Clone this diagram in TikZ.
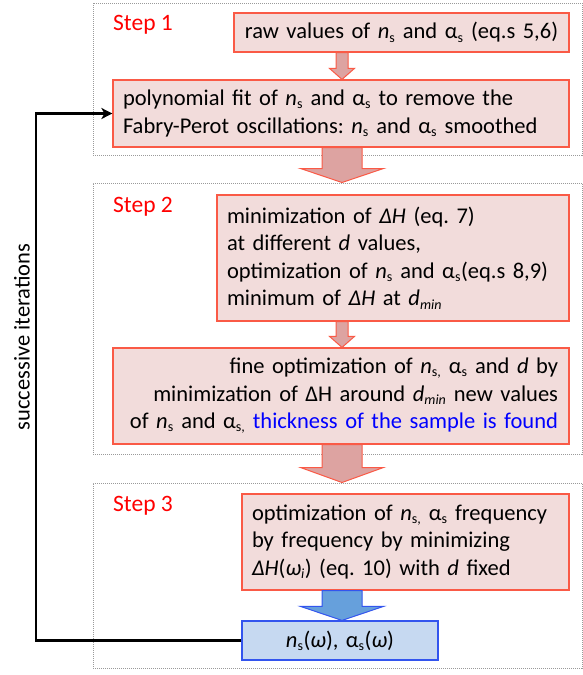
\documentclass[tikz,border=0pt]{standalone}
\usepackage{fontspec}
\setmainfont{Carlito}
\usetikzlibrary{calc,arrows.meta}
\definecolor{pinkfill}{HTML}{F2DCDB}
\definecolor{boxred}{HTML}{FA5A46}
\definecolor{arrfill}{HTML}{DDA3A1}
\definecolor{bluefill}{HTML}{C6D9F1}
\definecolor{blueline}{HTML}{3355EE}
\definecolor{bluearr}{HTML}{66A0DC}
\definecolor{panelgray}{HTML}{9A9A9A}
\definecolor{stepred}{HTML}{FF0000}
\definecolor{textblue}{HTML}{0000FF}
\newcommand{\ssub}[1]{\textsubscript{\fontsize{14}{14}\selectfont #1}}
\newcommand{\ns}{\textit{n}\ssub{s}}
\newcommand{\nsc}{\textit{n}\ssub{s,}}
\newcommand{\as}{α\ssub{s}}
\newcommand{\asc}{α\ssub{s,}}
\newcommand{\dmin}{\textit{d}\ssub{\textit{min}}}
\newcommand{\blockarrow}[6]{%
  \draw[#6] let \p1=#1, \p2=#2 in
    (\x1-#3pt,\y1) -- (\x1-#3pt,\y2+#5pt) -- (\x1-#4pt,\y2+#5pt) -- (\x1,\y2)
    -- (\x1+#4pt,\y2+#5pt) -- (\x1+#3pt,\y2+#5pt) -- (\x1+#3pt,\y1) -- cycle;}
\begin{document}
\frenchspacing
\begin{tikzpicture}[x=1pt,y=-1pt,
  every node/.style={font=\fontsize{22.5}{27.5}\selectfont\frenchspacing, inner sep=0pt},
  panel/.style={draw=panelgray, line width=1pt, dash pattern=on 1pt off 1pt},
  procbox/.style={draw=boxred, fill=pinkfill, line width=1.2pt, inner xsep=10pt, inner ysep=3pt},
  outbox/.style={draw=blueline, fill=bluefill, line width=1.2pt, inner xsep=10pt, inner ysep=3pt},
  steplabel/.style={text=stepred, anchor=west, font=\fontsize{23.5}{27.5}\selectfont},
  redarrow/.style={draw=boxred, fill=arrfill, line width=1pt},
  bluearrow/.style={draw=blueline, fill=bluearr, line width=1pt},
  loopline/.style={line width=2.5pt, -{Stealth[length=11pt,width=11pt,inset=3pt]}}
]
\useasboundingbox (0,0) rectangle (583,675);

% panels
\node[panel, minimum width=489pt, minimum height=152pt] (p1) at (337.5,79) {};
\node[panel, minimum width=489pt, minimum height=271pt] (p2) at (337.5,318.5) {};
\node[panel, minimum width=489pt, minimum height=185pt] (p3) at (337.5,575.5) {};

% step labels
\node[steplabel] (s1) at (113,25) {Step 1};
\node[steplabel] (s2) at (113,207) {Step 2};
\node[steplabel] (s3) at (113,506) {Step 3};

% process boxes
\node[procbox, text width=315pt, align=center, minimum height=39pt] (raw) at (401.5,32.5)
  {\mbox{raw values of \ns\ and \as\ (eq.s 5,6)}};
\node[procbox, text width=436pt, align=left, minimum height=67pt] (poly) at (341,113.5)
  {\mbox{polynomial fit of \ns\ and \as\ to remove the}\\
   \mbox{Fabry-Perot oscillations: \ns\ and \as\ smoothed}};
\node[procbox, text width=332pt, align=left, minimum height=126pt] (mini) at (393,258)
  {\mbox{minimization of \textit{ΔH} (eq. 7)}\\
   \mbox{at different \textit{d} values,}\\
   \mbox{optimization of \ns\ and \as(eq.s 8,9)}\\
   \mbox{minimum of \textit{ΔH} at \dmin}};
\node[procbox, text width=434pt, inner xsep=11pt, align=right, minimum height=96pt] (fine) at (341,396)
  {\mbox{fine optimization of \nsc\ \as\ and \textit{d} by}\\
   \mbox{minimization of ΔH around \dmin\ new values}\\
   \mbox{of \ns\ and \asc\ \textcolor{textblue}{thickness of the sample is found}}};
\node[procbox, text width=307pt, align=left, minimum height=96pt] (step3) at (405.5,542)
  {\mbox{optimization of \nsc\ \as\ frequency}\\
   \mbox{by frequency by minimizing}\\
   \mbox{\textit{ΔH}(\textit{ω}\ssub{\textit{i}}) (eq. 10) with \textit{d} fixed}};
\node[outbox, text width=176pt, align=center, minimum height=39pt] (outb) at (340,640.5)
  {\mbox{\ns(\textit{ω}), \as(\textit{ω})}};

% block arrows
\coordinate (ax) at (342,0);
\blockarrow{(raw.south -| ax)}{(poly.north -| ax)}{6}{12.5}{11}{redarrow}
\blockarrow{(poly.south -| ax)}{(p2.north -| ax)}{20}{41.5}{14}{redarrow}
\blockarrow{(mini.south -| ax)}{(fine.north -| ax)}{6}{12.5}{11}{redarrow}
\blockarrow{(fine.south -| ax)}{(p3.north -| ax)}{20}{41.5}{15}{redarrow}
\blockarrow{(step3.south -| ax)}{(outb.north -| ax)}{20}{41.5}{14}{bluearrow}

% iteration loop
\coordinate (lx) at (36,0);
\draw[loopline] (outb.west) -- (outb.west -| lx) -- (poly.west -| lx) -- (poly.west);
\node[rotate=90] (iter) at (22,337) {successive iterations};
\end{tikzpicture}
\end{document}
